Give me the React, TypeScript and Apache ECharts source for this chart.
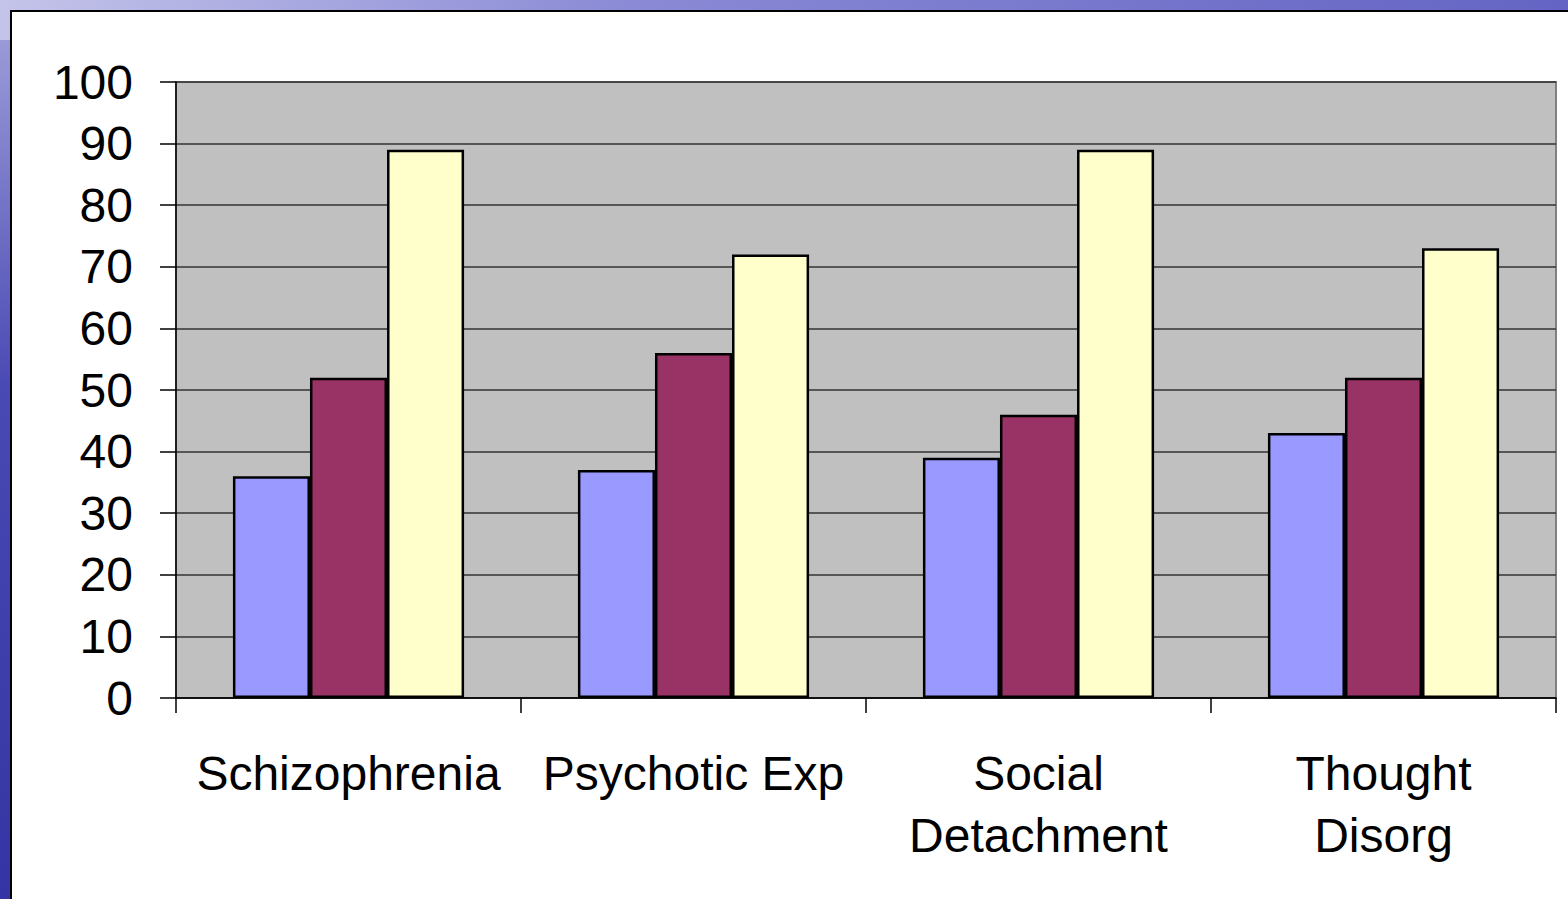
import React, { useEffect, useRef } from "react";
import * as echarts from "echarts";

const categories = ["Schizophrenia", "Psychotic Exp", "Social\nDetachment", "Thought\nDisorg"];
const seriesA = [36, 37, 39, 43];
const seriesB = [52, 56, 46, 52];
const seriesC = [89, 72, 89, 73];
const yTicks = { min: 0, max: 100, interval: 10 };

const FONT = '"Liberation Sans", Arial, Helvetica, sans-serif';

export default function App() {
  const ref = useRef<HTMLDivElement>(null);
  useEffect(() => {
    if (!ref.current) return;
    const chart = echarts.init(ref.current, null, { renderer: "svg" });
    const barStyle = (color: string) => ({ color, borderColor: "#000", borderWidth: 2.5 });
    chart.setOption({
      animation: false,
      backgroundColor: "transparent",
      textStyle: { fontFamily: FONT },
      grid: {
        left: 176,
        top: 82,
        right: 12,
        bottom: 201,
        show: true,
        backgroundColor: "#c0c0c0",
        borderColor: "#808080",
        borderWidth: 2,
      },
      xAxis: {
        type: "category",
        data: categories,
        axisLine: { show: true, lineStyle: { color: "#000", width: 1.5 } },
        axisTick: { show: true, length: 15, lineStyle: { color: "#000", width: 1.5 } },
        axisLabel: {
          color: "#000",
          fontSize: 48,
          lineHeight: 62,
          margin: 44,
          fontFamily: FONT,
          interval: 0,
        },
        splitLine: { show: false },
      },
      yAxis: {
        type: "value",
        min: yTicks.min,
        max: yTicks.max,
        interval: yTicks.interval,
        axisLine: { show: true, lineStyle: { color: "#000", width: 1.5 } },
        axisTick: { show: true, length: 16, lineStyle: { color: "#000", width: 1.5 } },
        axisLabel: { color: "#000", fontSize: 48, margin: 43, fontFamily: FONT },
        splitLine: { show: true, lineStyle: { color: "#333", width: 1.5 } },
      },
      series: [
        { type: "bar", data: seriesA, itemStyle: barStyle("#9999ff"), barGap: "0%", barCategoryGap: "33%" },
        { type: "bar", data: seriesB, itemStyle: barStyle("#993366"), barGap: "0%", barCategoryGap: "33%" },
        { type: "bar", data: seriesC, itemStyle: barStyle("#ffffcc"), barGap: "0%", barCategoryGap: "33%" },
      ],
    });
    return () => chart.dispose();
  }, []);

  return (
    <div
      style={{
        position: "fixed",
        left: 0,
        top: 0,
        width: 1568,
        height: 899,
        overflow: "hidden",
        background: "linear-gradient(to right, #c4c4ea, #8a8ad6 40%, #6464c4)",
      }}
    >
      <div
        style={{
          position: "absolute",
          left: 0,
          top: 40,
          width: 12,
          height: 859,
          background: "linear-gradient(to bottom, #9a9ad8, #4a4ab4 40%, #3434a4)",
        }}
      />
      <div
        style={{
          position: "absolute",
          left: 10,
          top: 10,
          width: 1568,
          height: 899,
          background: "#fff",
          borderLeft: "2px solid #000",
          borderTop: "2px solid #000",
        }}
      />
      <div ref={ref} style={{ position: "absolute", left: 0, top: 0, width: 1568, height: 899 }} />
    </div>
  );
}
